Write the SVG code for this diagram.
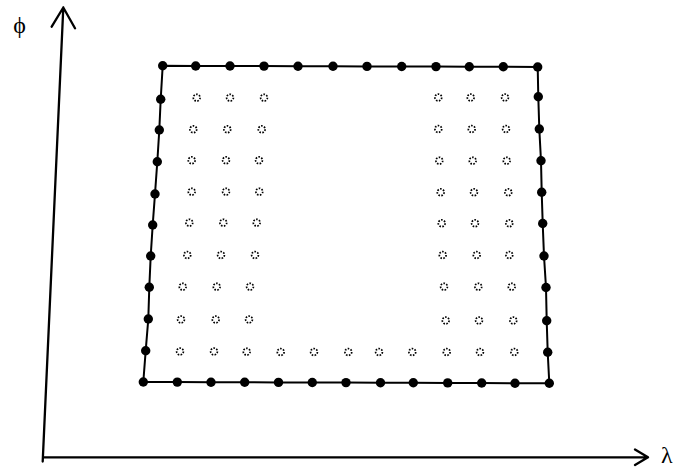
<svg xmlns="http://www.w3.org/2000/svg" width="675" height="468" viewBox="0 0 675 468">
<style>
.ax{fill:none;stroke:#000;stroke-width:2.3;stroke-linecap:round;stroke-linejoin:round}
.edge{fill:none;stroke:#000;stroke-width:2}
.b{fill:#000}
.h{fill:none;stroke:#000;stroke-width:1.7;stroke-dasharray:1.6 1.4}
.lbl{font-family:"Liberation Serif","Times New Roman",serif;font-size:24px;fill:#000}
</style>
<rect width="675" height="468" fill="#fff"/>
<g id="connectors">
<path class="ax" d="M42.7 461.5 L63.3 7.5 M51.7 26.7 L63.3 7.5 L75 28.3"/>
<path class="ax" d="M43.3 457.3 L648 457.3 M635 449.5 L648 457.3 L635 465"/>
<polygon id="boundary" class="edge" points="162.7,65.7 195.7,66 230,66 264,66.1 298,66.2 333,66.3 367,66.4 401.7,66.5 436,66.6 469.3,66.7 503.3,66.8 537.7,67 538.3,96.7 539.3,129 541,160.7 541.7,192.3 542.7,223.5 544,256 546,287.5 546.7,320.7 547.7,352.3 549.3,383.3 515,383.2 481.7,383 447.7,382.9 413.3,382.8 380.5,382.7 346,382.6 312.3,382.5 278.5,382.4 244.7,382.3 211,382.2 177.3,382.1 143.3,382 145.7,350.7 148.3,319 149.3,287.3 150.7,256 152.7,225 155,194 157.3,161.7 159.3,130 160.7,99.3"/>
</g>
<g id="boundary-nodes">
<circle class="b" cx="162.7" cy="65.7" r="4.7"/><circle class="b" cx="195.7" cy="66" r="4.7"/><circle class="b" cx="230" cy="66" r="4.7"/><circle class="b" cx="264" cy="66.1" r="4.7"/><circle class="b" cx="298" cy="66.2" r="4.7"/><circle class="b" cx="333" cy="66.3" r="4.7"/><circle class="b" cx="367" cy="66.4" r="4.7"/><circle class="b" cx="401.7" cy="66.5" r="4.7"/><circle class="b" cx="436" cy="66.6" r="4.7"/><circle class="b" cx="469.3" cy="66.7" r="4.7"/><circle class="b" cx="503.3" cy="66.8" r="4.7"/><circle class="b" cx="537.7" cy="67" r="4.7"/>
<circle class="b" cx="538.3" cy="96.7" r="4.7"/><circle class="b" cx="539.3" cy="129" r="4.7"/><circle class="b" cx="541" cy="160.7" r="4.7"/><circle class="b" cx="541.7" cy="192.3" r="4.7"/><circle class="b" cx="542.7" cy="223.5" r="4.7"/><circle class="b" cx="544" cy="256" r="4.7"/><circle class="b" cx="546" cy="287.5" r="4.7"/><circle class="b" cx="546.7" cy="320.7" r="4.7"/><circle class="b" cx="547.7" cy="352.3" r="4.7"/><circle class="b" cx="549.3" cy="383.3" r="4.7"/>
<circle class="b" cx="515" cy="383.2" r="4.7"/><circle class="b" cx="481.7" cy="383" r="4.7"/><circle class="b" cx="447.7" cy="382.9" r="4.7"/><circle class="b" cx="413.3" cy="382.8" r="4.7"/><circle class="b" cx="380.5" cy="382.7" r="4.7"/><circle class="b" cx="346" cy="382.6" r="4.7"/><circle class="b" cx="312.3" cy="382.5" r="4.7"/><circle class="b" cx="278.5" cy="382.4" r="4.7"/><circle class="b" cx="244.7" cy="382.3" r="4.7"/><circle class="b" cx="211" cy="382.2" r="4.7"/><circle class="b" cx="177.3" cy="382.1" r="4.7"/><circle class="b" cx="143.3" cy="382" r="4.7"/>
<circle class="b" cx="145.7" cy="350.7" r="4.7"/><circle class="b" cx="148.3" cy="319" r="4.7"/><circle class="b" cx="149.3" cy="287.3" r="4.7"/><circle class="b" cx="150.7" cy="256" r="4.7"/><circle class="b" cx="152.7" cy="225" r="4.7"/><circle class="b" cx="155" cy="194" r="4.7"/><circle class="b" cx="157.3" cy="161.7" r="4.7"/><circle class="b" cx="159.3" cy="130" r="4.7"/><circle class="b" cx="160.7" cy="99.3" r="4.7"/>
</g>
<g id="interior-nodes">
<circle class="h" cx="196.7" cy="97.7" r="3.4"/><circle class="h" cx="230" cy="97.7" r="3.4"/><circle class="h" cx="264" cy="97.7" r="3.4"/><circle class="h" cx="438.3" cy="97.5" r="3.4"/><circle class="h" cx="470.7" cy="97.5" r="3.4"/><circle class="h" cx="505" cy="97.5" r="3.4"/>
<circle class="h" cx="193.3" cy="129.3" r="3.4"/><circle class="h" cx="227.3" cy="129.3" r="3.4"/><circle class="h" cx="261.7" cy="129.3" r="3.4"/><circle class="h" cx="438.3" cy="129" r="3.4"/><circle class="h" cx="471.7" cy="129" r="3.4"/><circle class="h" cx="506" cy="129" r="3.4"/>
<circle class="h" cx="191.7" cy="160.3" r="3.4"/><circle class="h" cx="226" cy="160.3" r="3.4"/><circle class="h" cx="259" cy="160.3" r="3.4"/><circle class="h" cx="439.3" cy="160.7" r="3.4"/><circle class="h" cx="472.7" cy="160.7" r="3.4"/><circle class="h" cx="506.7" cy="160.7" r="3.4"/>
<circle class="h" cx="191.7" cy="191.7" r="3.4"/><circle class="h" cx="226" cy="191.7" r="3.4"/><circle class="h" cx="259.3" cy="191.7" r="3.4"/><circle class="h" cx="440.7" cy="192.3" r="3.4"/><circle class="h" cx="474" cy="192.3" r="3.4"/><circle class="h" cx="508.3" cy="192.3" r="3.4"/>
<circle class="h" cx="189.3" cy="222.7" r="3.4"/><circle class="h" cx="223.3" cy="222.7" r="3.4"/><circle class="h" cx="256.7" cy="222.7" r="3.4"/><circle class="h" cx="441.7" cy="223.3" r="3.4"/><circle class="h" cx="475" cy="223.3" r="3.4"/><circle class="h" cx="509.3" cy="223.3" r="3.4"/>
<circle class="h" cx="187.3" cy="255" r="3.4"/><circle class="h" cx="221" cy="255" r="3.4"/><circle class="h" cx="255" cy="255" r="3.4"/><circle class="h" cx="442.7" cy="255" r="3.4"/><circle class="h" cx="476.7" cy="255" r="3.4"/><circle class="h" cx="509.3" cy="255" r="3.4"/>
<circle class="h" cx="182.7" cy="286.7" r="3.4"/><circle class="h" cx="216.7" cy="286.7" r="3.4"/><circle class="h" cx="250" cy="286.7" r="3.4"/><circle class="h" cx="444" cy="286.7" r="3.4"/><circle class="h" cx="478.3" cy="286.7" r="3.4"/><circle class="h" cx="511.7" cy="286.7" r="3.4"/>
<circle class="h" cx="181" cy="319.5" r="3.4"/><circle class="h" cx="215.7" cy="319.5" r="3.4"/><circle class="h" cx="249" cy="319.5" r="3.4"/><circle class="h" cx="445.7" cy="320.5" r="3.4"/><circle class="h" cx="479" cy="320.5" r="3.4"/><circle class="h" cx="513.3" cy="320.5" r="3.4"/>
<circle class="h" cx="180" cy="351.5" r="3.4"/><circle class="h" cx="214" cy="351.5" r="3.4"/><circle class="h" cx="246.7" cy="351.7" r="3.4"/><circle class="h" cx="280.7" cy="352" r="3.4"/><circle class="h" cx="314" cy="352" r="3.4"/><circle class="h" cx="348.3" cy="352" r="3.4"/><circle class="h" cx="379" cy="352" r="3.4"/><circle class="h" cx="412.3" cy="352" r="3.4"/><circle class="h" cx="446.7" cy="352" r="3.4"/><circle class="h" cx="480" cy="352" r="3.4"/><circle class="h" cx="514.3" cy="352" r="3.4"/>
</g>
<g id="labels">
<text class="lbl" x="19.5" y="33" text-anchor="middle">ϕ</text>
<text class="lbl" x="661" y="463">λ</text>
</g>
</svg>
